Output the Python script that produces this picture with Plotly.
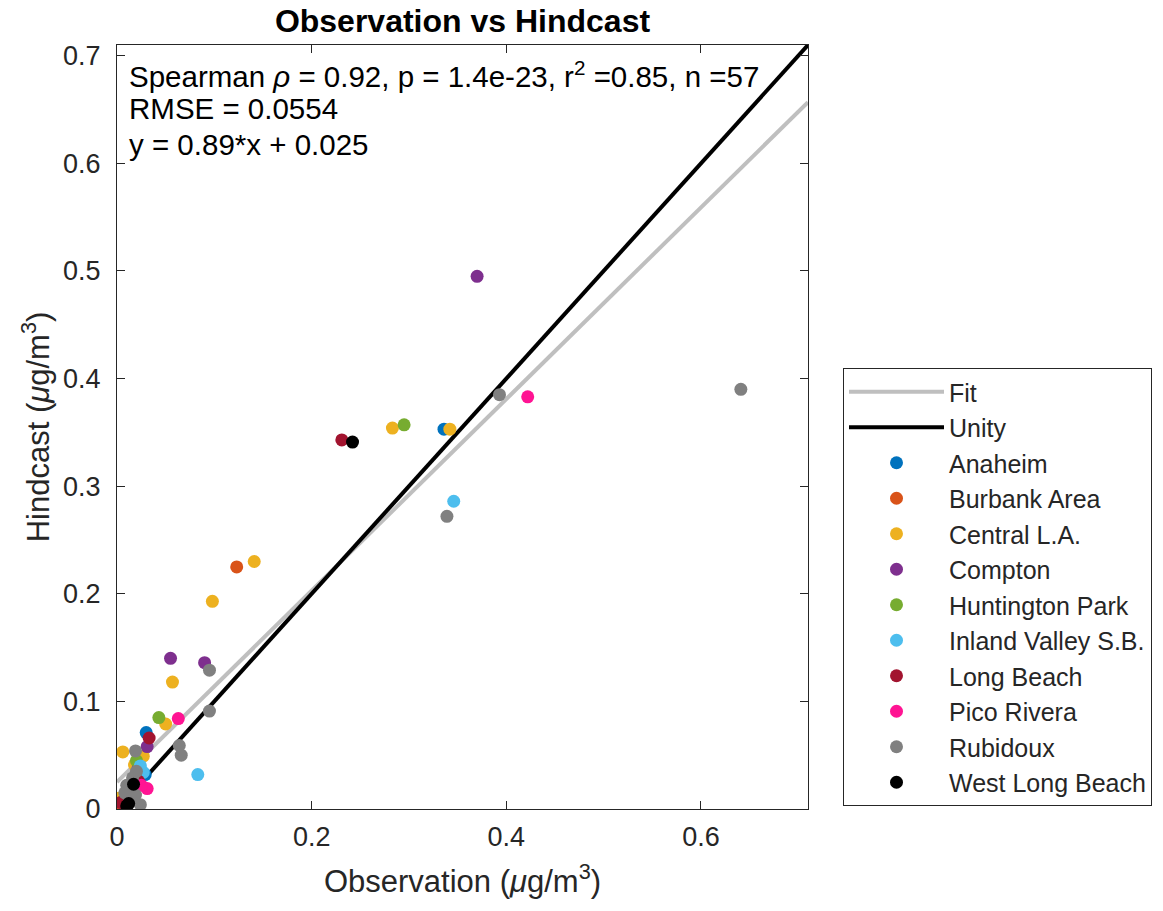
import plotly.graph_objects as go

stations = ["Anaheim", "Burbank Area", "Central L.A.", "Compton", "Huntington Park",
            "Inland Valley S.B.", "Long Beach", "Pico Rivera", "Rubidoux", "West Long Beach"]
colors = ["#0072BD", "#D95319", "#EDB120", "#7E2F8E", "#77AC30",
          "#4DBEEE", "#A2142F", "#FF1493", "#808080", "#000000"]

obs = {
    "Anaheim": [0.336, 0.030, 0.029, 0.024],
    "Burbank Area": [0.123, 0.005, 0.003],
    "Central L.A.": [0.283, 0.342, 0.141, 0.098, 0.057, 0.050, 0.006, 0.027, 0.002, 0.018],
    "Compton": [0.370, 0.055, 0.090, 0.031, 0.022],
    "Huntington Park": [0.295, 0.043, 0.020],
    "Inland Valley S.B.": [0.346, 0.083, 0.027, 0.024],
    "Long Beach": [0.231, 0.033, 0.022, 0.004],
    "Pico Rivera": [0.422, 0.063, 0.031, 0.025],
    "Rubidoux": [0.641, 0.393, 0.339, 0.095, 0.095, 0.064, 0.066, 0.019, 0.016, 0.013,
                 0.019, 0.013, 0.020, 0.010, 0.008, 0.024],
    "West Long Beach": [0.242, 0.017, 0.010, 0.012],
}
hind = {
    "Anaheim": [0.353, 0.071, 0.032, 0.036],
    "Burbank Area": [0.225, 0.004, 0.008],
    "Central L.A.": [0.354, 0.353, 0.230, 0.193, 0.118, 0.079, 0.053, 0.049, 0.010, 0.041],
    "Compton": [0.495, 0.140, 0.136, 0.058, 0.040],
    "Huntington Park": [0.357, 0.085, 0.045],
    "Inland Valley S.B.": [0.286, 0.032, 0.034, 0.040],
    "Long Beach": [0.343, 0.066, 0.026, 0.006],
    "Pico Rivera": [0.383, 0.084, 0.019, 0.022],
    "Rubidoux": [0.390, 0.385, 0.272, 0.129, 0.091, 0.059, 0.050, 0.054, 0.029, 0.018,
                 0.013, 0.008, 0.035, 0.022, 0.015, 0.004],
    "West Long Beach": [0.341, 0.023, 0.003, 0.005],
}

fit_slope = 0.89
fit_intercept = 0.025
axis_max = 0.71
line_x = [0, axis_max]

stats_lines = ["Spearman <i>ρ</i> = 0.92, p = 1.4e-23, r<sup>2</sup> =0.85, n =57",
               "RMSE = 0.0554",
               "y = 0.89*x + 0.025"]

FONT = "Liberation Sans, Arial, Helvetica, sans-serif"
TXT = "#262626"

fig = go.Figure()
fig.add_trace(go.Scatter(x=line_x, y=[fit_intercept + fit_slope * v for v in line_x],
                         mode="lines", name="Fit", line=dict(color="#BFBFBF", width=4)))
fig.add_trace(go.Scatter(x=line_x, y=line_x, mode="lines", name="Unity",
                         line=dict(color="#000000", width=4)))
for s, c in zip(stations, colors):
    fig.add_trace(go.Scatter(x=obs[s], y=hind[s], mode="markers", name=s,
                             marker=dict(color=c, size=13, line=dict(width=0))))

axis_common = dict(range=[0, axis_max], showline=True, mirror="ticks", linecolor=TXT,
                   linewidth=1, ticks="inside", ticklen=8, tickcolor=TXT,
                   showgrid=False, zeroline=False, automargin=False,
                   tickfont=dict(family=FONT, size=27, color=TXT))

fig.update_layout(
    width=1163, height=911,
    margin=dict(l=117, r=355, t=45, b=102, autoexpand=False),
    paper_bgcolor="white", plot_bgcolor="white",
    title=dict(text="<b>Observation vs Hindcast</b>", x=(117 + 808) / 2 / 1163, xanchor="center",
               y=1 - 21 / 911, yanchor="middle", font=dict(family=FONT, size=32, color="#000000")),
    xaxis=dict(**axis_common, tickvals=[0, 0.2, 0.4, 0.6], ticktext=["0", "0.2", "0.4", "0.6"],
               ticklabelstandoff=4,
               title=dict(text="Observation (<i>μ</i>g/m<sup>3</sup>)",
                          font=dict(family=FONT, size=31, color=TXT), standoff=18)),
    yaxis=dict(**axis_common, tickvals=[0, 0.1, 0.2, 0.3, 0.4, 0.5, 0.6, 0.7],
               ticktext=["0", "0.1", "0.2", "0.3", "0.4", "0.5", "0.6", "0.7"],
               ticklabelstandoff=10,
               title=dict(text="Hindcast (<i>μ</i>g/m<sup>3</sup>)",
                          font=dict(family=FONT, size=31, color=TXT), standoff=4)),
    legend=dict(xref="container", yref="container", x=843 / 1163, xanchor="left",
                y=(911 - 806) / 911, yanchor="bottom",
                bgcolor="white", bordercolor=TXT, borderwidth=1,
                font=dict(family=FONT, size=25, color=TXT),
                traceorder="normal", itemwidth=95),
    showlegend=True,
)

for i, line in enumerate(stats_lines):
    fig.add_annotation(
        text=line, xref="paper", yref="paper", x=(127 - 117) / 691,
        y=1 - (74 + 35 * i - 45) / 764,
        xanchor="left", yanchor="middle", align="left", showarrow=False,
        font=dict(family=FONT, size=29.5, color="#000000"))

fig.write_html("out.html")
